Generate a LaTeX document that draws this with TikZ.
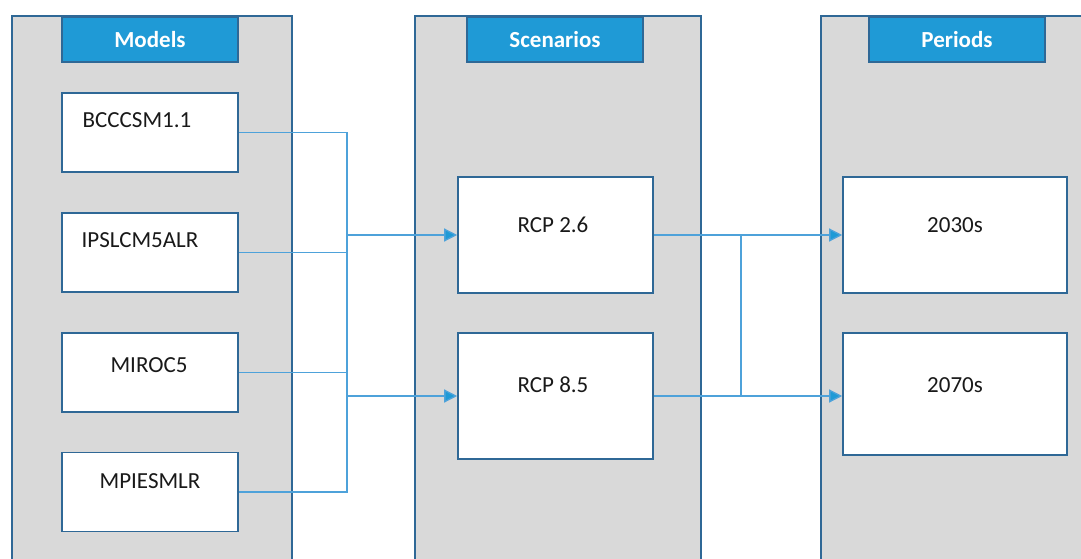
\documentclass[tikz,border=0pt]{standalone}
\usepackage{fontspec}
\setmainfont{Carlito}
\usetikzlibrary{arrows.meta}
\definecolor{panelfill}{HTML}{D9D9D9}
\definecolor{edge}{HTML}{2F6896}
\definecolor{headfill}{HTML}{1F9AD6}
\definecolor{wirec}{HTML}{4EA2DA}
\tikzset{
  panel/.style={fill=panelfill, draw=edge, line width=1.6pt},
  head/.style={rectangle, fill=headfill, draw=edge, line width=1.4pt,
    minimum width=176pt, minimum height=45pt, inner sep=0pt,
    text=white, font=\fontsize{23}{26}\selectfont\bfseries},
  box/.style={rectangle, fill=white, draw=edge, line width=1.6pt, inner sep=0pt},
  modelbox/.style={box, minimum width=176pt, minimum height=79pt},
  bigbox/.style={box, minimum height=116pt},
  txt/.style={inner sep=0pt, anchor=base, font=\fontsize{23}{26}\selectfont, text=black!90},
  wire/.style={draw=wirec, line width=1.3pt},
  arr/.style={wire, -{Triangle[length=13pt, width=13pt, fill=headfill]}},
}
\begin{document}
\begin{tikzpicture}[x=1pt, y=-1pt]
\useasboundingbox (0,0) rectangle (1081,559);
\clip (0,0) rectangle (1081,559);
\fill[white] (0,0) rectangle (1081,559);

% column panels, open at the bottom of the page
\draw[panel] (12,16) rectangle (292,575);
\draw[panel] (415,16) rectangle (701,575);
\draw[panel] (821,16) rectangle (1100,575);

% column headers
\node[head] (hm) at (150,39.5) {Models};
\node[head] (hs) at (555,39.5) {Scenarios};
\node[head] (hp) at (957,39.5) {Periods};

% model boxes
\node[modelbox] (m1) at (150,132.5) {};
\node[modelbox] (m2) at (150,252.5) {};
\node[modelbox] (m3) at (150,372.5) {};
\node[modelbox] (m4) at (150,492) {};
\node[txt] (t1) at (137,128) {BCCCSM1.1};
\node[txt] (t2) at (140,247) {IPSLCM5ALR};
\node[txt] (t3) at (149,372) {MIROC5};
\node[txt] (t4) at (150,488) {MPIESMLR};

% scenario boxes
\node[bigbox, minimum width=195pt] (s1) at (555.5,235) {};
\node[bigbox, minimum width=195pt, minimum height=126pt] (s2) at (555.5,396) {};
\node[txt] (u1) at (553,232) {RCP 2.6};
\node[txt] (u2) at (553,392) {RCP 8.5};

% period boxes
\node[bigbox, minimum width=224pt] (p1) at (955,235) {};
\node[bigbox, minimum width=224pt, minimum height=122pt] (p2) at (955,394) {};
\node[txt] (v1) at (955,232) {2030s};
\node[txt] (v2) at (955,392) {2070s};

% collecting lines
\coordinate (bus) at (347,0);
\coordinate (join) at (741,0);
\draw[wire] (m1.east) -- (m1.east -| bus) -- (m4.east -| bus) -- (m4.east);
\draw[wire] (m2.east) -- (m2.east -| bus);
\draw[wire] (m3.east) -- (m3.east -| bus);
\draw[arr] (s1.west -| bus) -- (s1.west);
\draw[arr] (s2.west -| bus) -- (s2.west);

\draw[arr] (s1.east) -- (s1.east -| p1.west);
\draw[arr] (s2.east) -- (s2.east -| p2.west);
\draw[wire] (s1.east -| join) -- (s2.east -| join);
\end{tikzpicture}
\end{document}
